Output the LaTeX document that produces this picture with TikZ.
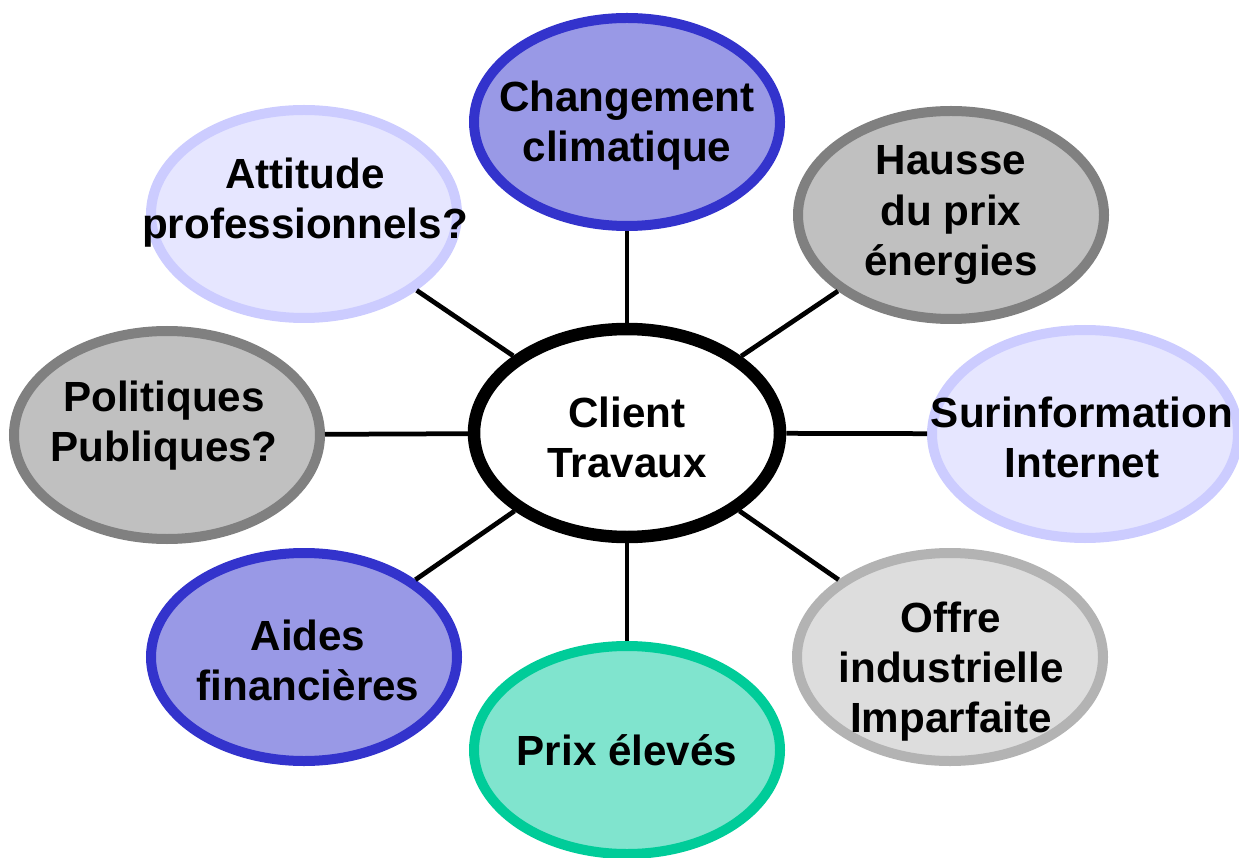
\documentclass[tikz,border=0pt]{standalone}
\usepackage{fontspec}
\setmainfont{Liberation Sans}
\usetikzlibrary{shapes.geometric}

\definecolor{bleuBord}{RGB}{51,51,204}
\definecolor{bleuFond}{RGB}{153,153,230}
\definecolor{grisBord}{RGB}{128,128,128}
\definecolor{grisFond}{RGB}{192,192,192}
\definecolor{lavBord}{RGB}{204,204,255}
\definecolor{lavFond}{RGB}{230,230,255}
\definecolor{clairBord}{RGB}{179,179,179}
\definecolor{clairFond}{RGB}{221,221,221}
\definecolor{vertBord}{RGB}{0,204,153}
\definecolor{vertFond}{RGB}{128,228,206}

\tikzset{
  bulle/.style={ellipse, minimum width=6.12cm, minimum height=4.16cm,
    inner sep=0pt, line width=0.2cm},
  texte/.style={font=\fontsize{24}{28.5}\selectfont\bfseries, align=center},
  rayon/.style={line width=0.095cm}
}

\begin{document}
\begin{tikzpicture}
\useasboundingbox (0,0) rectangle (24.78,17.14);
\clip (0,0) rectangle (24.78,17.14);
%Centre
\node[bulle, draw=black, fill=white, line width=0.25cm] (client) at (12.54,8.48) {};
\node[texte] (t-client) at (12.54,8.40) {Client\\Travaux};
%Bulles autour
\node[bulle, draw=bleuBord, fill=bleuFond] (climat) at (12.54,14.70) {};
\node[texte] (t-climat) at (12.54,14.62) {Changement\\climatique};
\node[bulle, draw=grisBord, fill=grisFond] (hausse) at (19.02,12.84) {};
\node[texte] (t-hausse) at (19.02,12.84) {Hausse\\du prix\\énergies};
\node[bulle, draw=lavBord, fill=lavFond] (surinfo) at (21.70,8.46) {};
\node[texte] (t-surinfo) at (21.64,8.40) {Surinformation\\Internet};
\node[bulle, draw=clairBord, fill=clairFond] (offre) at (19.00,4.00) {};
\node[texte] (t-offre) at (19.02,3.70) {Offre\\industrielle\\Imparfaite};
\node[bulle, draw=vertBord, fill=vertFond] (prix) at (12.54,2.14) {};
\node[texte] (t-prix) at (12.54,2.14) {Prix élevés};
\node[bulle, draw=bleuBord, fill=bleuFond] (aides) at (6.08,4.00) {};
\node[texte] (t-aides) at (6.16,3.94) {Aides\\financières};
\node[bulle, draw=grisBord, fill=grisFond] (politiques) at (3.34,8.44) {};
\node[texte] (t-politiques) at (3.28,8.62) {Politiques\\Publiques?};
\node[bulle, draw=lavBord, fill=lavFond] (attitude) at (6.08,12.86) {};
\node[texte] (t-attitude) at (6.10,13.08) {Attitude\\professionnels?};
%Rayons
\foreach \b in {climat,hausse,surinfo,offre,prix,aides,politiques,attitude}
  \draw[rayon] (client) -- (\b);
\end{tikzpicture}
\end{document}
